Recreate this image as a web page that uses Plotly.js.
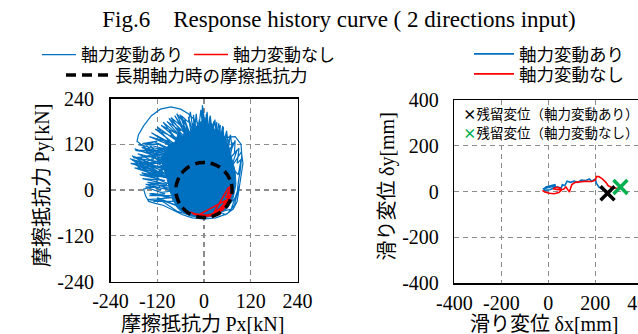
<!DOCTYPE html>
<html>
<head>
<meta charset="utf-8">
<script src="https://cdn.plot.ly/plotly-3.0.1.min.js"></script>
<style>
html,body{margin:0;padding:0;overflow:hidden;width:638px;height:334px;background:#fff;}
#chart{width:660px;height:334px;}
</style>
</head>
<body>
<div id="chart"></div>
<script>
// ---------------- DATA ----------------
// (a) friction force trajectory, axial force variation ON (blue), [Px, Py] in kN
const forceOnFan = [[0,0],[40,30],[-20,30],[-120,60],[-60,45],[-185,78],[-90,55],[-170,95],[-70,70],[-178,108],[-100,80],[-160,112],
 [-80,90],[-150,105],[-110,70],[-175,70],[-95,40],[-165,85],[-120,95],[-145,60],[-85,30],[-160,45],[-100,20],[-140,35],[-75,10],
 [-150,15],[-110,0],[-130,40],[-90,65],[-140,118],[-70,100],[-125,125],[-60,85],[-115,110],[-135,80],[-155,70],[-105,50],[-190,82],
 [-130,65],[-170,60],[-115,30],[-150,50],[-60,20]];
const forceOnUpper = [[-80,120],[-135,150],[-75,110],[-120,165],[-65,125],[-105,178],[-55,135],[-90,188],[-50,150],[-75,195],[-40,140],
 [-62,198],[-35,120],[-50,185],[-30,130],[-40,192],[-25,140],[-27,197],[-18,130],[-12,185],[-8,120],[-4,222],[2,130],[6,200],[10,125],
 [15,192],[18,120],[25,180],[22,115],[33,178],[30,110],[42,170],[38,105],[50,165],[45,100],[58,150],[52,95],[67,140],[60,90],[75,125],
 [65,80],[85,105],[70,60]];
const forceOnLoops = [[40,40],[-40,70],[-100,100],[-150,110],[-172,128],[-168,145],[-155,168],[-135,195],[-112,212],[-85,218],[-60,212],
 [-40,200],[-20,180],[0,160],[20,140],[50,138],[80,140],[95,120],[97,90],[93,50],[88,20],[85,-10],[78,-40],[60,-62],[30,-73],[0,-76],
 [-30,-73],[-55,-65],[-80,-52],[-105,-40],[-125,-35],[-142,-30],[-150,-15],[-155,2],[-130,10],[-90,0],[-60,-20],[-30,-40]];
const forceOnMid = [[-20,60],[-45,160],[-10,90],[-30,175],[0,100],[-15,170],[10,95],[5,180],[25,90],[20,165],[40,80],[35,150],[55,70],
 [45,140],[65,55],[60,120],[75,40],[-50,50],[-95,130],[-40,90],[-85,145],[-30,100],[-70,160],[-20,110],[-55,170],[-10,70],[-130,90],
 [-70,40],[-185,90],[-120,50],[-175,65],[-100,35],[-180,75]];
const forceOnLobe = [[-90,70],[-182,85],[-95,90],[-176,104],[-100,105],[-168,118],[-110,120],[-158,122],[-120,128],[-150,120],[-95,60],
 [-188,70],[-105,45],[-178,58],[-110,35],[-165,40],[-100,25],[-158,30],[-95,15],[-145,20],[-90,5],[-150,8],[-100,-10],[-140,-15],
 [-85,-15],[-130,-30],[-80,-30]];
const forceOnHatch = [[-70,110],[-140,140],[-75,120],[-125,160],[-70,135],[-110,170],[-65,145],[-95,180],[-60,155],[-85,190],[-55,165],
 [-70,200],[-48,172],[-58,195],[-40,178],[-35,205],[-30,170],[-25,150],[-20,200],[-15,150],[-8,210],[-2,155],[-4,222],[4,160],[8,205],
 [12,150],[16,195],[22,145],[28,185],[32,140],[38,175],[42,135],[48,168],[52,130],[58,155],[62,120],[68,145],[72,110],[80,130],[78,95],
 [90,110],[85,70],[95,80],[88,40],[70,60],[96,100],[100,70],[92,20],[85,-30],[75,-50],[55,-65]];
const forceOnLow = [[-60,0],[-140,-10],[-80,-20],[-145,-25],[-100,-30],[-60,-45],[-120,-20],[-70,-55],[-40,-65],[-20,-50],[20,-68],
 [50,-55],[80,-20],[90,10],[70,-50],[-10,-72],[0,0]];
// dense, fully overlapped part of the same blue trajectory, kN
const forceOnCore = [[-60,-55],[-35,-68],[0,-73],[35,-66],[60,-48],[75,-20],[82,15],[80,50],[72,80],[65,110],[60,120],[55,140],[45,135],
 [40,160],[30,150],[20,175],[12,160],[5,190],[-2,165],[-8,180],[-15,160],[-25,175],[-35,150],[-45,165],[-55,140],[-65,150],[-75,125],
 [-90,120],[-100,100],[-110,85],[-105,60],[-95,30],[-88,0],[-80,-25],[-70,-45],[-60,-55]];
// (a) friction force trajectory, axial force variation OFF (red), kN
const forceOff = [[68,-5],[55,-20],[70,-15],[50,-35],[65,-30],[40,-50],[58,-42],[30,-58],[50,-52],[20,-62],[42,-58],[5,-66],[30,-64],
 [-10,-66],[15,-68],[-25,-62],[0,-70],[-35,-58],[-15,-66],[60,-25],[72,-8],[45,-45],[66,-20],[35,-55],[55,-38],[25,-60],[62,5],[70,10],
 [60,-10],[68,-28],[48,-48],[62,-38],[38,-60],[20,-67],[-5,-70],[-30,-62]];
// friction resistance under long-term axial force (circle, radius ~72 kN)
const frictionPx = [72,66.5,50.9,27.6,0,-27.6,-50.9,-66.5,-72,-66.5,-50.9,-27.6,0,27.6,50.9,66.5,72];
const frictionPy = [0,27.6,50.9,66.5,72,66.5,50.9,27.6,0,-27.6,-50.9,-66.5,-72,-66.5,-50.9,-27.6,0];
// (b) slip displacement trajectories, mm
const slipOnDx = [-20,-10,10,30,25,5,-15,-20,0,20,40,55,60,70,80,95,110,125,140,160,175,185,200,205,215,230,240,250,245,252];
const slipOnDy = [10,20,25,30,15,8,5,12,18,22,20,15,30,25,45,40,45,40,50,48,55,45,55,35,20,10,5,-5,-10,-8];
const slipOffDx = [-25,-15,5,25,45,55,50,35,20,40,65,75,85,90,95,100,115,135,160,185,200,205,215,230,245,255,270,285,300,307];
const slipOffDy = [5,-2,-8,-10,-5,5,15,18,12,8,10,20,5,-2,15,30,40,42,45,44,50,65,65,55,40,25,18,15,12,20];
// residual displacement, mm
const residualOnDx = [252], residualOnDy = [-8];
const residualOffDx = [307], residualOffDy = [20];
// ticks
const forceTicks = [-240,-120,0,120,240];
const forceTickText = ['-240','-120','0','120','240'];
const slipTicks = [-400,-200,0,200,400];
const slipTickText = ['-400','-200','0','200','400'];
// texts
const nameOn = '軸力変動あり';
const nameOff = '軸力変動なし';
const nameFriction = '長期軸力時の摩擦抵抗力';
const resOnLabel = '残留変位（軸力変動あり）';
const resOffLabel = '残留変位（軸力変動なし）';

// ---------------- BUILD ----------------
const W = 660, H = 334;
const fx = p => p / W;
const fy = p => 1 - p / H;
const BLUE = '#0070C0', RED = '#FF0000', GREEN = '#00B050';
const JP = 'Noto Sans CJK JP';
const SERIF = 'Liberation Serif';

const forceOn = [].concat(forceOnFan, forceOnUpper, forceOnLoops, forceOnMid, forceOnLobe, forceOnHatch, forceOnLow);
const X = a => a.map(p => p[0]);
const Y = a => a.map(p => p[1]);

const traces = [
  {x: X(forceOnCore), y: Y(forceOnCore), type:'scatter', mode:'lines', fill:'toself', fillcolor:BLUE,
   line:{color:BLUE, width:1}, showlegend:false, hoverinfo:'skip', xaxis:'x', yaxis:'y'},
  {x: X(forceOn), y: Y(forceOn), type:'scatter', mode:'lines', name:nameOn,
   line:{color:BLUE, width:1.2}, legend:'legend', xaxis:'x', yaxis:'y'},
  {x: X(forceOff), y: Y(forceOff), type:'scatter', mode:'lines', name:nameOff,
   line:{color:RED, width:1.5}, legend:'legend', xaxis:'x', yaxis:'y'},
  {x: frictionPx, y: frictionPy, type:'scatter', mode:'lines', name:nameFriction,
   line:{color:'black', width:3.5, dash:'10px,6px', shape:'spline', smoothing:1.3}, legend:'legend2', xaxis:'x', yaxis:'y'},
  {x: slipOnDx, y: slipOnDy, type:'scatter', mode:'lines', name:nameOn,
   line:{color:BLUE, width:1.6}, legend:'legend3', xaxis:'x2', yaxis:'y2'},
  {x: slipOffDx, y: slipOffDy, type:'scatter', mode:'lines', name:nameOff,
   line:{color:RED, width:1.6}, legend:'legend4', xaxis:'x2', yaxis:'y2'},
  {x: residualOnDx, y: residualOnDy, type:'scatter', mode:'markers', showlegend:false,
   marker:{symbol:'x-thin', size:14, line:{color:'black', width:3.5}}, xaxis:'x2', yaxis:'y2'},
  {x: residualOffDx, y: residualOffDy, type:'scatter', mode:'markers', showlegend:false,
   marker:{symbol:'x-thin', size:14, line:{color:GREEN, width:3.5}}, xaxis:'x2', yaxis:'y2'}
];

const axisCommon = {
  showgrid:true, gridcolor:'#8c8c8c', griddash:'5px,4px', gridwidth:1.2,
  zeroline:false, showline:true, mirror:true, linecolor:'black', linewidth:1.5,
  ticks:'', tickfont:{family:SERIF, size:20, color:'black'}, fixedrange:true
};
const legendCommon = {font:{family:JP, size:17.5, color:'black'}, bgcolor:'rgba(0,0,0,0)',
  borderwidth:0, xanchor:'left', yanchor:'middle', tracegroupgap:0, orientation:'h', itemwidth:40};

const titleFont = {family:JP, size:20, color:'black'};
const serifSpan = t => '<span style="font-family:Liberation Serif">' + t + '</span>';

const layout = {
  width:W, height:H, margin:{l:0,r:0,t:0,b:0}, paper_bgcolor:'white', plot_bgcolor:'white',
  title:{text:'Fig.6\u00a0\u00a0\u00a0\u00a0Response history curve ( 2 directions input)',
    font:{family:SERIF, size:23, color:'black'}, xref:'container', yref:'container',
    x:fx(339), xanchor:'center', y:fy(19), yanchor:'middle'},
  xaxis:Object.assign({}, axisCommon, {domain:[fx(110.5), fx(297.5)], range:[-240,240],
    tickvals:forceTicks, ticktext:forceTickText, ticklabelstandoff:1, anchor:'y'}),
  yaxis:Object.assign({}, axisCommon, {domain:[fy(281.5), fy(98.5)], range:[-240,240],
    tickvals:forceTicks, ticktext:forceTickText, ticklabelstandoff:11, anchor:'x'}),
  xaxis2:Object.assign({}, axisCommon, {domain:[fx(454.3), fx(642.3)], range:[-400,400],
    tickvals:slipTicks, ticktext:slipTickText, ticklabelstandoff:1, anchor:'y2'}),
  yaxis2:Object.assign({}, axisCommon, {domain:[fy(283), fy(100)], range:[-400,400],
    tickvals:slipTicks, ticktext:slipTickText, ticklabelstandoff:10, anchor:'x2'}),
  legend:Object.assign({}, legendCommon, {x:fx(37), y:fy(55), entrywidth:103, entrywidthmode:'pixels',
    font:{family:JP, size:17, color:'black'}, itemwidth:34}),
  legend2:Object.assign({}, legendCommon, {x:fx(61), y:fy(75), itemwidth:44}),
  legend3:Object.assign({}, legendCommon, {x:fx(469), y:fy(54)}),
  legend4:Object.assign({}, legendCommon, {x:fx(469), y:fy(74)}),
  annotations:[
    {xref:'paper', yref:'paper', x:fx(202.5), y:fy(322.5), xanchor:'center', yanchor:'middle', showarrow:false,
     text:'摩擦抵抗力 ' + serifSpan('Px[kN]'), font:titleFont},
    {xref:'paper', yref:'paper', x:fx(41), y:fy(186), xanchor:'center', yanchor:'middle', showarrow:false, textangle:-90,
     text:'摩擦抵抗力 ' + serifSpan('Py[kN]'), font:titleFont},
    {xref:'paper', yref:'paper', x:fx(543.5), y:fy(322.5), xanchor:'center', yanchor:'middle', showarrow:false,
     text:'滑り変位 ' + serifSpan('δx[mm]'), font:titleFont},
    {xref:'paper', yref:'paper', x:fx(385), y:fy(186.5), xanchor:'center', yanchor:'middle', showarrow:false, textangle:-90,
     text:'滑り変位 ' + serifSpan('δy[mm]'), font:titleFont},
    {xref:'paper', yref:'paper', x:fx(461), y:fy(113), xanchor:'left', yanchor:'middle', showarrow:false,
     text:'<span style="color:black"><b>×</b></span>' + resOnLabel, font:{family:JP, size:13.5, color:'black'}},
    {xref:'paper', yref:'paper', x:fx(461), y:fy(132), xanchor:'left', yanchor:'middle', showarrow:false,
     text:'<span style="color:' + GREEN + '"><b>×</b></span>' + resOffLabel, font:{family:JP, size:13.5, color:'black'}}
  ]
};

Plotly.newPlot('chart', traces, layout, {displayModeBar:false, staticPlot:true});
</script>
</body>
</html>
